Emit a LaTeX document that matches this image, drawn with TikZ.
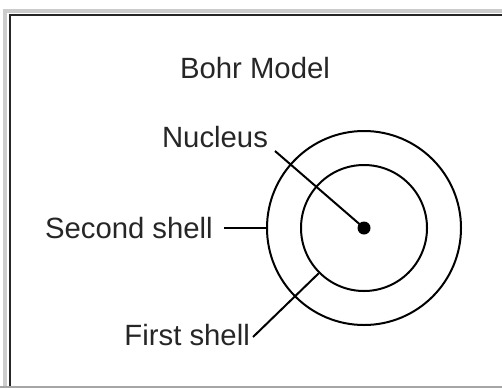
\documentclass[tikz,border=0pt]{standalone}
\usepackage{fontspec}
\setmainfont{Liberation Sans}
\begin{document}
\begin{tikzpicture}[x=1pt,y=-1pt,
  lbl/.style={inner sep=0pt, font=\fontsize{29.3}{35}\selectfont, text=black!85},
  shell/.style={circle, draw=black, line width=2pt, inner sep=0pt},
  conn/.style={draw=black, line width=2pt}]
\useasboundingbox (0,0) rectangle (502,388);
% frame
\draw[black!20, line width=3.5pt] (5,388) -- (5,11) -- (502,11);
\draw[black!85, line width=2.5pt] (10,388) -- (10,15) -- (502,15);
\draw[black!35, line width=2pt] (0,387) -- (502,387);
% title
\node[lbl] (title) at (255,68) {Bohr Model};
% shells
\node[shell, minimum size=194pt] (outer) at (364,228) {};
\node[shell, minimum size=126pt] (inner) at (364,228) {};
\node[circle, fill=black, minimum size=13pt, inner sep=0pt] (nuc) at (364,228) {};
% labels
\node[lbl] (nl) at (215,137) {Nucleus};
\node[lbl, anchor=east] (ss) at (213,228) {Second shell};
\node[lbl, anchor=east] (fs) at (250,335) {First shell};
\coordinate (n1) at (275,151);
\coordinate (s1) at (224,228);
\coordinate (f1) at (253,337);
\draw[conn] (n1) -- (nuc.center);
\draw[conn] (s1) -- (outer.west);
\draw[conn] (f1) -- (inner.225);
\end{tikzpicture}
\end{document}
